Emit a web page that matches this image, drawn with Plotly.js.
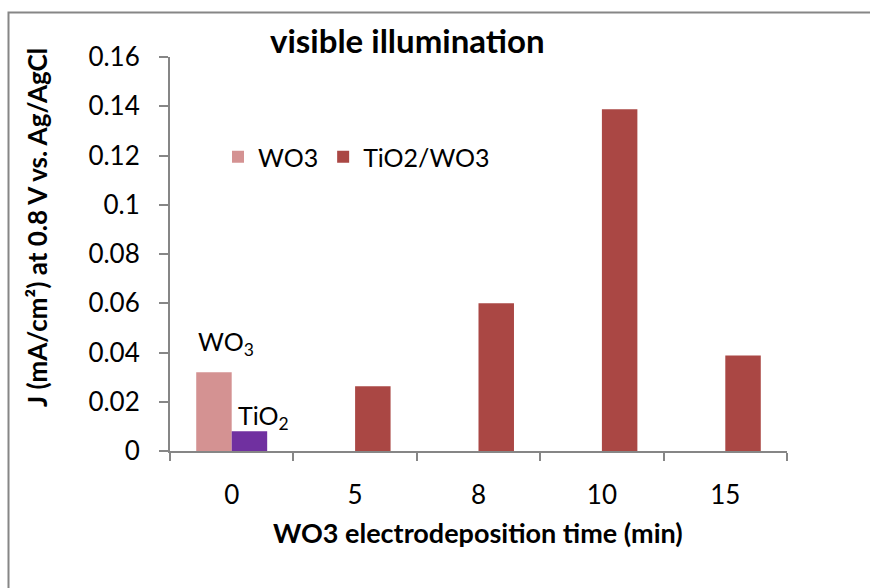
<!DOCTYPE html>
<html>
<head>
<meta charset="utf-8">
<script src="https://cdn.plot.ly/plotly-3.0.1.min.js"></script>
<style>html,body{margin:0;padding:0;background:#fff;}#chart{width:870px;height:588px;}</style>
</head>
<body>
<div id="chart"></div>
<script>
// Data
const categories = ["0", "5", "8", "10", "15"];
const wo3Values = [0.032, null, null, null, null];
const tio2wo3Values = [null, 0.0263, 0.060, 0.1388, 0.0388];
const tio2Categories = ["0"];
const tio2Values = [0.008];
const seriesNames = ["WO3", "TiO2/WO3"];
const yTickVals = [0, 0.02, 0.04, 0.06, 0.08, 0.1, 0.12, 0.14, 0.16];
const yTickText = ["0", "0.02", "0.04", "0.06", "0.08", "0.1", "0.12", "0.14", "0.16"];

// Layout geometry (pixels)
const W = 870, H = 588;
const L = 170, R = 787, T = 57, B = 451;
const px = x => (x - L) / (R - L);
const py = y => (B - y) / (B - T);
const FONT = "Lato, 'Open Sans', sans-serif";
const barW = 0.2875;

const traces = [
  {
    type: "bar", name: seriesNames[0], x: categories, y: wo3Values,
    offset: -barW, width: barW,
    marker: {color: "#D49292", line: {width: 0}}
  },
  {
    type: "bar", name: seriesNames[1], x: categories, y: tio2wo3Values,
    offset: 0, width: barW,
    marker: {color: "#AA4744", line: {width: 0}}
  },
  {
    type: "bar", name: "TiO2", x: tio2Categories, y: tio2Values,
    offset: 0, width: barW, showlegend: false,
    marker: {color: "#7030A0", line: {width: 0}}
  }
];

const layout = {
  width: W, height: H,
  margin: {l: L, r: W - R, t: T, b: H - B, pad: 0},
  paper_bgcolor: "#ffffff", plot_bgcolor: "#ffffff",
  barmode: "overlay",
  font: {family: FONT, color: "#000", size: 24},
  showlegend: true,
  legend: {
    orientation: "h", x: px(218), y: py(157), xanchor: "left", yanchor: "middle",
    font: {family: FONT, size: 25, color: "#000"},
    bgcolor: "rgba(0,0,0,0)", itemwidth: 30, tracegroupgap: 0
  },
  xaxis: {
    type: "category", categoryorder: "array", categoryarray: categories,
    range: [-0.5, 4.5], showgrid: false, zeroline: false,
    showline: true, linecolor: "#868686", linewidth: 2,
    ticks: "outside", tickson: "boundaries", ticklen: 8, tickcolor: "#868686", tickwidth: 2,
    tickfont: {family: FONT, size: 26, color: "#000"}, ticklabelstandoff: 20,
    fixedrange: true
  },
  yaxis: {
    range: [0, 0.16], tickvals: yTickVals, ticktext: yTickText,
    showgrid: false, zeroline: false,
    showline: true, linecolor: "#868686", linewidth: 2,
    ticks: "outside", ticklen: 9, tickcolor: "#868686", tickwidth: 2,
    tickfont: {family: FONT, size: 26, color: "#000"}, ticklabelstandoff: 14,
    fixedrange: true
  },
  annotations: [
    {text: "<b>visible illumination</b>", xref: "paper", yref: "paper", x: px(407), y: py(40),
     xanchor: "center", yanchor: "middle", showarrow: false, font: {family: FONT, size: 33, color: "#000"}},
    {text: "<b>J (mA/cm²) at 0.8 V vs. Ag/AgCl</b>", xref: "paper", yref: "paper", x: px(37), y: py(228),
     xanchor: "center", yanchor: "middle", textangle: -90, showarrow: false, font: {family: FONT, size: 26, color: "#000"}},
    {text: "<b>WO3 electrodeposition time (min)</b>", xref: "paper", yref: "paper", x: px(478), y: py(532),
     xanchor: "center", yanchor: "middle", showarrow: false, font: {family: FONT, size: 27, color: "#000"}},
    {text: "WO<sub>3</sub>", xref: "paper", yref: "paper", x: px(196), y: py(343),
     xanchor: "left", yanchor: "middle", showarrow: false, font: {family: FONT, size: 25, color: "#000"}},
    {text: "TiO<sub>2</sub>", xref: "paper", yref: "paper", x: px(236), y: py(417),
     xanchor: "left", yanchor: "middle", showarrow: false, font: {family: FONT, size: 25, color: "#000"}}
  ],
  shapes: [
    {type: "path", xref: "paper", yref: "paper",
     path: `M ${px(8.5)} ${py(600)} L ${px(8.5)} ${py(12.5)} L ${px(880)} ${py(12.5)}`,
     line: {color: "#868686", width: 2}}
  ]
};

Plotly.newPlot("chart", traces, layout, {displayModeBar: false, staticPlot: true});
</script>
</body>
</html>
